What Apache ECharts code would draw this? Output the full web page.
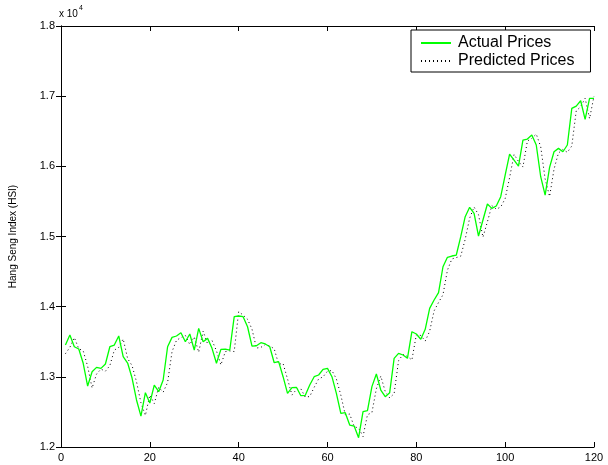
<!DOCTYPE html>
<html>
<head>
<meta charset="utf-8">
<script src="https://cdn.jsdelivr.net/npm/echarts@6/dist/echarts.min.js"></script>
<style>
  html, body { margin: 0; padding: 0; background: #fff; }
  #chart { width: 608px; height: 465px; }
</style>
</head>
<body>
<div id="chart"></div>
<script>
// Trading day index
const days = Array.from({ length: 120 }, (_, i) => i + 1);

// Hang Seng Index closing values
const actualPrices = [
  13453, 13596, 13429, 13396, 13193, 12869, 13073, 13135, 13121, 13183,
  13429, 13453, 13582, 13287, 13197, 12983, 12670, 12441, 12774, 12627,
  12883, 12788, 12955, 13429, 13562, 13582, 13629, 13500, 13610, 13382,
  13691, 13500, 13548, 13406, 13193, 13392, 13396, 13382, 13857, 13867,
  13857, 13714, 13439, 13443, 13486, 13468, 13429, 13201, 13216, 13002,
  12765, 12845, 12851, 12731, 12737, 12883, 13002, 13026, 13107, 13121,
  13002, 12765, 12480, 12489, 12313, 12299, 12133, 12503, 12517, 12860,
  13040, 12812, 12717, 12774, 13264, 13335, 13311, 13264, 13643, 13610,
  13535, 13677, 13976, 14095, 14199, 14569, 14703, 14722, 14736, 14997,
  15282, 15416, 15330, 15007, 15235, 15463, 15401, 15434, 15567, 15876,
  16175, 16090, 16004, 16375, 16389, 16446, 16304, 15852, 15591, 15986,
  16208, 16256, 16208, 16304, 16826, 16859, 16935, 16668, 16968, 16968
];

// Model output for the same days
const predictedPrices = [
  13330, 13420, 13560, 13400, 13370, 13150, 12840, 13040, 13110, 13080,
  13160, 13380, 13420, 13540, 13260, 13160, 12930, 12630, 12450, 12740,
  12620, 12850, 12780, 12920, 13360, 13520, 13560, 13590, 13460, 13570,
  13350, 13650, 13470, 13520, 13370, 13170, 13360, 13370, 13360, 13930,
  13880, 13820, 13680, 13410, 13420, 13460, 13440, 13400, 13180, 13190,
  12970, 12740, 12820, 12830, 12710, 12720, 12850, 12970, 13000, 13080,
  13090, 12970, 12740, 12460, 12470, 12290, 12270, 12150, 12460, 12490,
  12830, 13010, 12790, 12700, 12760, 13230, 13320, 13290, 13240, 13600,
  13590, 13510, 13650, 13940, 14060, 14170, 14520, 14680, 14700, 14720,
  14960, 15260, 15420, 15310, 14990, 15210, 15440, 15390, 15420, 15540,
  15840, 16170, 16070, 15990, 16360, 16400, 16460, 16280, 15820, 15570,
  15960, 16190, 16240, 16200, 16290, 16790, 16850, 16970, 16680, 17000
];

// Axis ticks
const xTicks = [0, 20, 40, 60, 80, 100, 120];
const yTicks = [12000, 13000, 14000, 15000, 16000, 17000, 18000];

const FONT = 'Liberation Sans, Arial, Helvetica, sans-serif';

const chart = echarts.init(document.getElementById('chart'), null, { renderer: 'canvas' });

const axisLine = { show: true, lineStyle: { color: '#000', width: 1 } };
const tickIn = { show: true, inside: true, length: 5, lineStyle: { color: '#000', width: 1 } };

chart.setOption({
  backgroundColor: '#fff',
  animation: false,
  grid: { left: 59, right: 14, top: 26, bottom: 18, containLabel: false },
  legend: {
    left: 411,
    top: 30,
    orient: 'vertical',
    itemWidth: 30,
    itemHeight: 14,
    itemGap: 2,
    padding: [5, 16, 3, 9],
    borderColor: '#000',
    borderWidth: 1,
    borderRadius: 0,
    backgroundColor: '#fff',
    itemStyle: { opacity: 0 },
    textStyle: { fontFamily: FONT, fontSize: 16, color: '#000', padding: [0, 0, 0, 2] },
    data: ['Actual Prices', 'Predicted Prices']
  },
  xAxis: [
    {
      type: 'value',
      min: xTicks[0],
      max: xTicks[xTicks.length - 1],
      interval: 20,
      position: 'bottom',
      axisLine: axisLine,
      axisTick: tickIn,
      splitLine: { show: false },
      axisLabel: { color: '#000', fontFamily: FONT, fontSize: 11, margin: 5 }
    },
    {
      type: 'value',
      min: xTicks[0],
      max: xTicks[xTicks.length - 1],
      interval: 20,
      position: 'top',
      axisLine: axisLine,
      axisTick: tickIn,
      splitLine: { show: false },
      axisLabel: { show: false }
    }
  ],
  yAxis: [
    {
      type: 'value',
      min: yTicks[0],
      max: yTicks[yTicks.length - 1],
      interval: 1000,
      position: 'left',
      name: 'Hang Seng Index (HSI)',
      nameLocation: 'middle',
      nameGap: 43,
      nameTextStyle: { color: '#000', fontFamily: FONT, fontSize: 10 },
      axisLine: axisLine,
      axisTick: tickIn,
      splitLine: { show: false },
      axisLabel: {
        color: '#000', fontFamily: FONT, fontSize: 11, margin: 6,
        formatter: v => (v / 10000).toFixed(1)
      }
    },
    {
      type: 'value',
      min: yTicks[0],
      max: yTicks[yTicks.length - 1],
      interval: 1000,
      position: 'right',
      axisLine: axisLine,
      axisTick: tickIn,
      splitLine: { show: false },
      axisLabel: { show: false }
    }
  ],
  graphic: [
    {
      type: 'text',
      left: 59,
      top: 9,
      style: { text: 'x 10', font: '10px ' + FONT, fill: '#000' }
    },
    {
      type: 'text',
      left: 79,
      top: 5,
      style: { text: '4', font: '7px ' + FONT, fill: '#000' }
    }
  ],
  series: [
    {
      name: 'Actual Prices',
      type: 'line',
      symbol: 'none',
      data: days.map((d, i) => [d, actualPrices[i]]),
      lineStyle: { color: '#00ff00', width: 1.3 },
      itemStyle: { color: '#00ff00' },
      z: 3
    },
    {
      name: 'Predicted Prices',
      type: 'line',
      symbol: 'none',
      data: days.map((d, i) => [d, predictedPrices[i]]),
      lineStyle: { color: '#000', width: 1, type: [1, 3] },
      itemStyle: { color: '#000' },
      z: 2
    }
  ]
});
</script>
</body>
</html>
